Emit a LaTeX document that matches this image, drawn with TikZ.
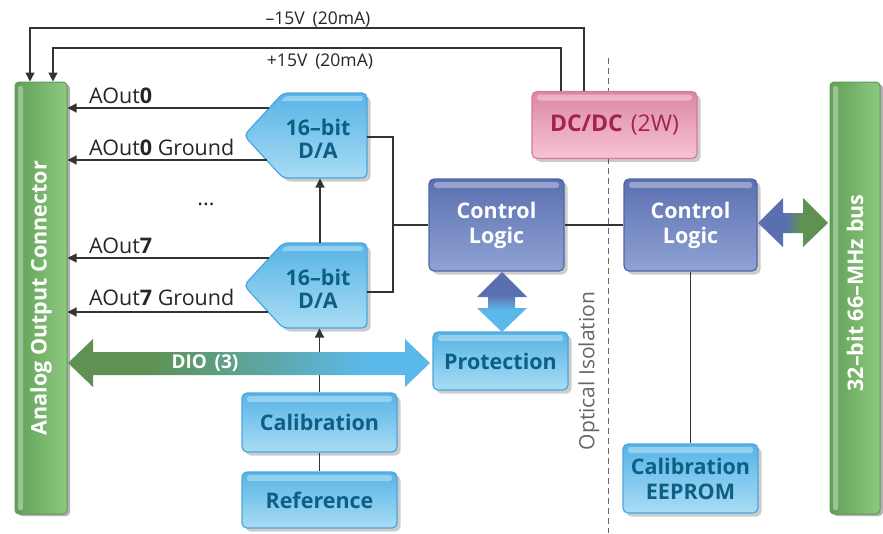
\documentclass[tikz,border=0pt]{standalone}
\usepackage{fontspec}
\setmainfont{Open Sans}
\usetikzlibrary{shadows,arrows.meta,calc}
\definecolor{lbTop}{HTML}{56B4E6}
\definecolor{lbBot}{HTML}{A9DCF4}
\definecolor{lbBorder}{HTML}{4AA6DC}
\definecolor{lbText}{HTML}{0D5F86}
\definecolor{clTop}{HTML}{5A6FB0}
\definecolor{clBot}{HTML}{90A3D4}
\definecolor{clBorder}{HTML}{5065A6}
\definecolor{dcTop}{HTML}{DD87A4}
\definecolor{dcBot}{HTML}{F6C4D4}
\definecolor{dcBorder}{HTML}{D9789A}
\definecolor{dcText}{HTML}{A3224F}
\definecolor{grL}{HTML}{62A058}
\definecolor{grR}{HTML}{8DC97F}
\definecolor{grBorder}{HTML}{5E9A55}
\definecolor{wireC}{HTML}{333333}
\definecolor{dioG}{HTML}{5E9152}
\definecolor{dioB}{HTML}{5BB9EA}
\definecolor{isoC}{HTML}{666666}
\pgfdeclarehorizontalshading{dioshade}{100bp}{color(0bp)=(dioG); color(36bp)=(dioG); color(66bp)=(dioB); color(100bp)=(dioB)}
\pgfdeclarehorizontalshading{busshade}{100bp}{color(0bp)=(clTop); color(45bp)=(clTop); color(55bp)=(dioG); color(100bp)=(dioG)}
\pgfdeclareverticalshading{protshade}{100bp}{color(0bp)=(dioB); color(43bp)=(dioB); color(56bp)=(clTop); color(100bp)=(clTop)}
\tikzset{
  boxfont/.style={font=\fontsize{21.5}{25}\selectfont\bfseries},
  box/.style={rounded corners=5pt, line width=1.2pt, inner sep=0pt, align=center, boxfont,
    drop shadow={shadow xshift=3.5pt, shadow yshift=-3.5pt, fill=black, opacity=0.2},
    path picture={\fill[white,opacity=0.35,rounded corners=2.5pt]
      ([xshift=5pt,yshift=-3pt]path picture bounding box.north west) rectangle
      ([xshift=-5pt,yshift=-9pt]path picture bounding box.north east);}},
  lbox/.style={box, draw=lbBorder, top color=lbTop, bottom color=lbBot, text=lbText},
  clbox/.style={box, draw=clBorder, top color=clTop, bottom color=clBot, text=white},
  dcbox/.style={box, draw=dcBorder, top color=dcTop, bottom color=dcBot, text=dcText,
    font=\fontsize{23}{27}\selectfont\bfseries},
  bar/.style={rounded corners=4pt, line width=1pt, draw=grBorder, left color=grL, right color=grR,
    minimum width=52pt, minimum height=432pt, inner sep=0pt,
    drop shadow={shadow xshift=3pt, shadow yshift=-2pt, fill=black, opacity=0.3},
    path picture={\fill[white,opacity=0.35,rounded corners=2pt]
      ([xshift=3pt,yshift=-4pt]path picture bounding box.north west) rectangle
      ([xshift=8pt,yshift=4pt]path picture bounding box.south west);}},
  bartext/.style={rotate=90, text=white, font=\fontsize{21.5}{25}\selectfont\bfseries},
  dacshape/.style={draw=lbBorder, line width=1.2pt, rounded corners=5pt, top color=lbTop, bottom color=lbBot,
    drop shadow={shadow xshift=3.5pt, shadow yshift=-3.5pt, fill=black, opacity=0.2}},
  dactext/.style={text=lbText, align=center, inner sep=0pt, font=\fontsize{21.5}{23}\selectfont\bfseries},
  wire/.style={draw=wireC, line width=1.2pt},
  arr/.style={wire, -{Triangle[length=9pt,width=9pt]}},
  lbl/.style={text=black!85, inner sep=0pt, font=\fontsize{21.5}{25}\selectfont},
  pwrlbl/.style={text=black!85, inner sep=0pt, font=\fontsize{17.5}{20}\selectfont},
}
\begin{document}
\begin{tikzpicture}[x=1pt,y=-1pt]
\useasboundingbox (0,0) rectangle (883,533);

% optical isolation
\draw[isoC, line width=1pt, dash pattern=on 6pt off 4pt] (608,58) -- (608,533);
\node[rotate=90, text=isoC, inner sep=0pt, font=\fontsize{21}{25}\selectfont] (iso) at (589,371) {Optical Isolation};

% bars
\node[bar] (aoc) at (41,298) {};
\node[bartext] (aocT) at (aoc.center) {Analog Output Connector};
\node[bar, minimum width=50pt] (bus) at (855,298) {};
\node[bartext] (busT) at (855,293) {32–bit 66–MHz bus};

% boxes
\node[dcbox, minimum width=165pt, minimum height=67pt] (dcdc) at (614.5,125) {DC/DC\hspace{0.35em}\mdseries(2W)};
\node[clbox, minimum width=135pt, minimum height=92pt] (clL) at (496.5,225) {\raisebox{-2pt}{Control}\\\raisebox{-2pt}{Logic}};
\node[clbox, minimum width=133pt, minimum height=92pt] (clR) at (690.5,225) {\raisebox{-2pt}{Control}\\\raisebox{-2pt}{Logic}};
\node[lbox, minimum width=135pt, minimum height=58pt] (prot) at (500.5,361) {Protection};
\node[lbox, minimum width=155pt, minimum height=59pt] (cal) at (319.5,422.5) {Calibration};
\node[lbox, minimum width=155pt, minimum height=56pt] (ref) at (319.5,500) {Reference};
\node[lbox, minimum width=135pt, minimum height=69pt] (eeprom) at (690.5,478.5) {Calibration\\EEPROM};

% DACs
\path[dacshape] (244,135.5) -- (283,93) -- (367,93) -- (367,178) -- (283,178) -- cycle;
\fill[white,opacity=0.35,rounded corners=2pt] (286,96) -- (363,96) -- (363,101) -- (281,101) -- cycle;
\node[dactext] (dA) at (318,139) {16–bit\\D/A};
\path[dacshape] (244,285.5) -- (283,243) -- (367,243) -- (367,328) -- (283,328) -- cycle;
\fill[white,opacity=0.35,rounded corners=2pt] (286,246) -- (363,246) -- (363,251) -- (281,251) -- cycle;
\node[dactext] (dB) at (318,289) {16–bit\\D/A};
\coordinate (dAe) at (367,137);
\coordinate (dBe) at (367,292);
\coordinate (dAb) at (320,178.5);
\coordinate (dBt) at (320,243);
\coordinate (dBb) at (320,328.5);
\coordinate (a0) at (269,108);
\coordinate (a0g) at (266.5,160);
\coordinate (a7) at (269.2,258);
\coordinate (a7g) at (268.3,312);

% analog outputs
\draw[arr] (a0) -- (aoc.east |- a0);
\draw[arr] (a0g) -- (aoc.east |- a0g);
\draw[arr] (a7) -- (aoc.east |- a7);
\draw[arr] (a7g) -- (aoc.east |- a7g);
\node[lbl, anchor=base west] (l0) at (89,103) {AOut\textbf{0}};
\node[lbl, anchor=base west] (l0g) at (89,155) {AOut\textbf{0} Ground};
\node[lbl, anchor=base west] (l7) at (89,253) {AOut\textbf{7}};
\node[lbl, anchor=base west] (l7g) at (89,305) {AOut\textbf{7} Ground};
\node[lbl] (dots) at (206,204) {...};

% DAC links
\draw[arr] (dBt) -- (dAb);
\draw[arr] (cal.north) -- (cal.north |- dBb);
\draw[wire] (cal.south) -- (ref.north);
\draw[wire] (dAe) -- (393,137) -- (393,292) -- (dBe);
\draw[wire] (clL.west) -- (clL.west -| 393,0);
\draw[wire] (clL.east) -- (clR.west);
\draw[wire] (clR.south) -- (eeprom.north);

% power
\draw[arr] (dcdc.north -| 584,0) -- (584,28) -- (30,28) -- (aoc.north -| 30,0);
\draw[arr] (dcdc.north -| 561,0) -- (561,48) -- (53,48) -- (aoc.north -| 53,0);
\node[pwrlbl, anchor=base] (m15) at (318,24.5) {–15V\hspace{0.45em}(20mA)};
\node[pwrlbl, anchor=base] (p15) at (320,66) {+15V\hspace{0.45em}(20mA)};

% fat arrows
\shade[shading=dioshade] (68,363) -- (93,339) -- (93,352) -- (405,352) -- (405,339) -- (430,363) -- (405,387) -- (405,375) -- (93,375) -- (93,387) -- cycle;
\node[text=white, inner sep=0pt, font=\fontsize{19}{22}\selectfont\bfseries] (dio) at (205,363) {DIO\hspace{0.4em}(3)};
\shade[shading=protshade] (502,272) -- (527,297) -- (515,297) -- (515,308) -- (527,308) -- (502,332) -- (477,308) -- (488,308) -- (488,297) -- (477,297) -- cycle;
\shade[shading=busshade] (758,223) -- (783,198) -- (783,213) -- (803,213) -- (803,198) -- (828,223) -- (803,247) -- (803,233) -- (783,233) -- (783,247) -- cycle;
\end{tikzpicture}
\end{document}
